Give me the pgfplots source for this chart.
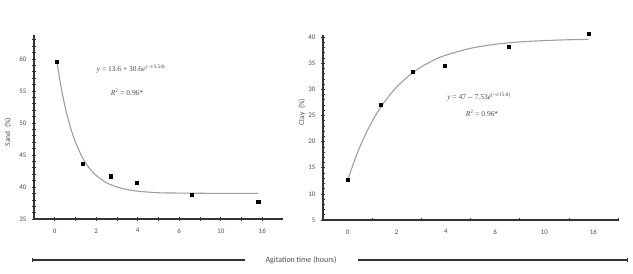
\documentclass[border=0pt]{standalone}
\usepackage{pgfplots}
\pgfplotsset{compat=1.18}
\usepackage{fontspec}
\setmainfont{Carlito}
\newfontfamily\eqfont{Liberation Serif}
\definecolor{txt}{gray}{0.3}
\definecolor{crv}{gray}{0.62}
\definecolor{axc}{gray}{0.2}
\begin{document}
\begin{tikzpicture}
\path[use as bounding box] (0,0) rectangle (633bp,274bp);
\pgfplotsset{common/.style={
  scale only axis, axis lines*=left,
  axis line style={line width=1.1pt, axc},
  tick align=center,
  tick style={axc, line width=0.6pt},
  major tick length=4bp, minor tick length=3bp,
  ticklabel style={font=\fontsize{7}{8}\selectfont, text=txt},
  /pgf/number format/assume math mode=true,
  clip=false,
  xticklabel style={yshift=-4bp},
  yticklabel style={xshift=-2bp},
}}
% ---------- Sand ----------
\begin{axis}[common, at={(34bp,55bp)}, anchor=south west,
  width=249bp, height=184bp,
  xmin=-1, xmax=11, ymin=35, ymax=63.75,
  xtick={0,...,10}, xticklabels={0,{},2,{},4,{},6,{},10,{},16},
  ytick={35,40,...,60}, minor ytick={36,...,63}]
\addplot[crv, line width=1.1pt, smooth] coordinates {
 (0.1,59.6) (0.3,55.7) (0.5,52.5) (0.75,49.4) (1.0,47.0) (1.35,44.5)
 (1.7,42.8) (2.0,41.8) (2.5,40.65) (3.0,40.0) (3.5,39.6) (4.0,39.35)
 (5.0,39.1) (6.0,39.05) (8.0,39.0) (9.8,39.0)};
\addplot[only marks, mark=square*, mark size=1.6bp, black] coordinates {
 (0.1,59.6) (1.35,43.7) (2.7,41.7) (3.96,40.7) (6.6,38.75) (9.8,37.7)};
\end{axis}
% ---------- Clay ----------
\begin{axis}[common, at={(323bp,54bp)}, anchor=south west,
  width=295bp, height=185bp,
  xmin=-0.5, xmax=5.5, ymin=5, ymax=40.4,
  xtick={0,...,5}, xticklabels={0,2,4,6,10,16},
  major x tick style={draw=none},
  minor xtick={0.5,1.5,...,5.5},
  ytick={5,10,...,40}, minor ytick={6,...,40}]
\addplot[crv, line width=1.1pt, smooth] coordinates {
 (0,12.6) (0.2,17.86) (0.4,22.08) (0.6,25.5) (0.8,28.23) (1.0,30.46)
 (1.25,32.63) (1.5,34.30) (1.75,35.58) (2.0,36.55) (2.5,37.85) (3.0,38.62)
 (3.5,39.07) (4.0,39.33) (4.5,39.49) (4.9,39.56)};
\addplot[only marks, mark=square*, mark size=1.6bp, black] coordinates {
 (0,12.65) (0.67,27.1) (1.33,33.4) (1.97,34.5) (3.27,38.1) (4.9,40.6)};
\end{axis}
% ---------- labels ----------
\node[rotate=90, text=txt, font=\fontsize{7.5}{8}\selectfont] at (8bp,142bp) {Sand\enspace(\%)};
\node[rotate=90, text=txt, font=\fontsize{7.5}{8}\selectfont] at (302bp,162bp) {Clay\enspace(\%)};
\node[text=txt, font=\eqfont\fontsize{7.5}{8}\selectfont] at (131bp,205bp) {\textit{y} = 13.6 + 30.6\textit{e}\textsuperscript{(--\textit{t}/3.54)}};
\node[text=txt, font=\eqfont\fontsize{7.5}{8}\selectfont] at (127bp,182bp) {\textit{R}\textsuperscript{2} = 0.96*};
\node[text=txt, font=\eqfont\fontsize{7.5}{8}\selectfont] at (479bp,177bp) {\textit{y} = 47 -- 7.53\textit{e}\textsuperscript{(--\textit{t}/15.8)}};
\node[text=txt, font=\eqfont\fontsize{7.5}{8}\selectfont] at (482bp,161bp) {\textit{R}\textsuperscript{2} = 0.96*};
% ---------- bottom bracket ----------
\draw[axc, line width=1.1pt] (32bp,14bp) -- (245bp,14bp);
\draw[axc, line width=1.1pt] (358bp,14bp) -- (627bp,14bp);
\draw[axc, line width=0.8pt] (32bp,12bp) -- (32bp,16bp);
\draw[axc, line width=0.8pt] (627bp,12bp) -- (627bp,16bp);
\node[text=txt, font=\fontsize{8}{9}\selectfont] at (301bp,14bp) {Agitation time (hours)};
\end{tikzpicture}
\end{document}
